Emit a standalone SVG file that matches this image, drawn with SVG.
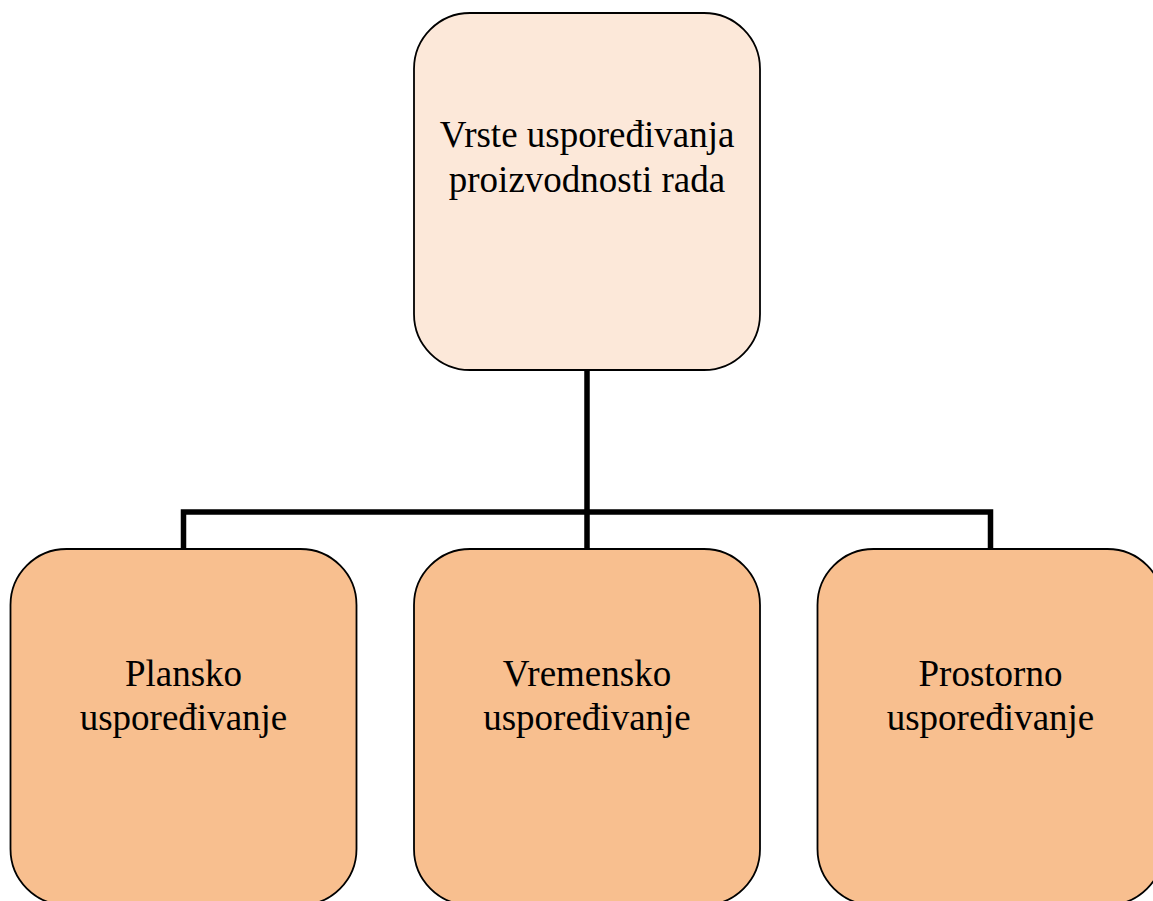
<svg xmlns="http://www.w3.org/2000/svg" width="1153" height="901" viewBox="0 0 1153 901">
<style>
.node rect{stroke:#000;stroke-width:1.8}
.top rect{fill:#FCE8D9}
.child rect{fill:#F8BF8F}
text{font-family:"Liberation Serif","Times New Roman",serif;font-size:37px;fill:#000;text-anchor:middle}
.conn{fill:none;stroke:#000;stroke-width:5.5}
</style>
<rect width="1153" height="901" fill="#fff"/>
<g id="connectors">
<path class="conn" d="M587 370 V512 M183.5 549 V512 H990.5 V549 M587 512 V549"/>
</g>
<g id="node-root" class="node top">
<rect x="414" y="13" width="346" height="357" rx="56" ry="56"/>
<text x="587" y="147">Vrste uspoređivanja</text>
<text x="587" y="192">proizvodnosti rada</text>
</g>
<g id="node-plansko" class="node child">
<rect x="10.5" y="549" width="346" height="356" rx="56" ry="56"/>
<text x="183.5" y="686">Plansko</text>
<text x="183.5" y="730">uspoređivanje</text>
</g>
<g id="node-vremensko" class="node child">
<rect x="414" y="549" width="346" height="356" rx="56" ry="56"/>
<text x="587" y="686">Vremensko</text>
<text x="587" y="730">uspoređivanje</text>
</g>
<g id="node-prostorno" class="node child">
<rect x="817.5" y="549" width="346" height="356" rx="56" ry="56"/>
<text x="990.5" y="686">Prostorno</text>
<text x="990.5" y="730">uspoređivanje</text>
</g>
</svg>
